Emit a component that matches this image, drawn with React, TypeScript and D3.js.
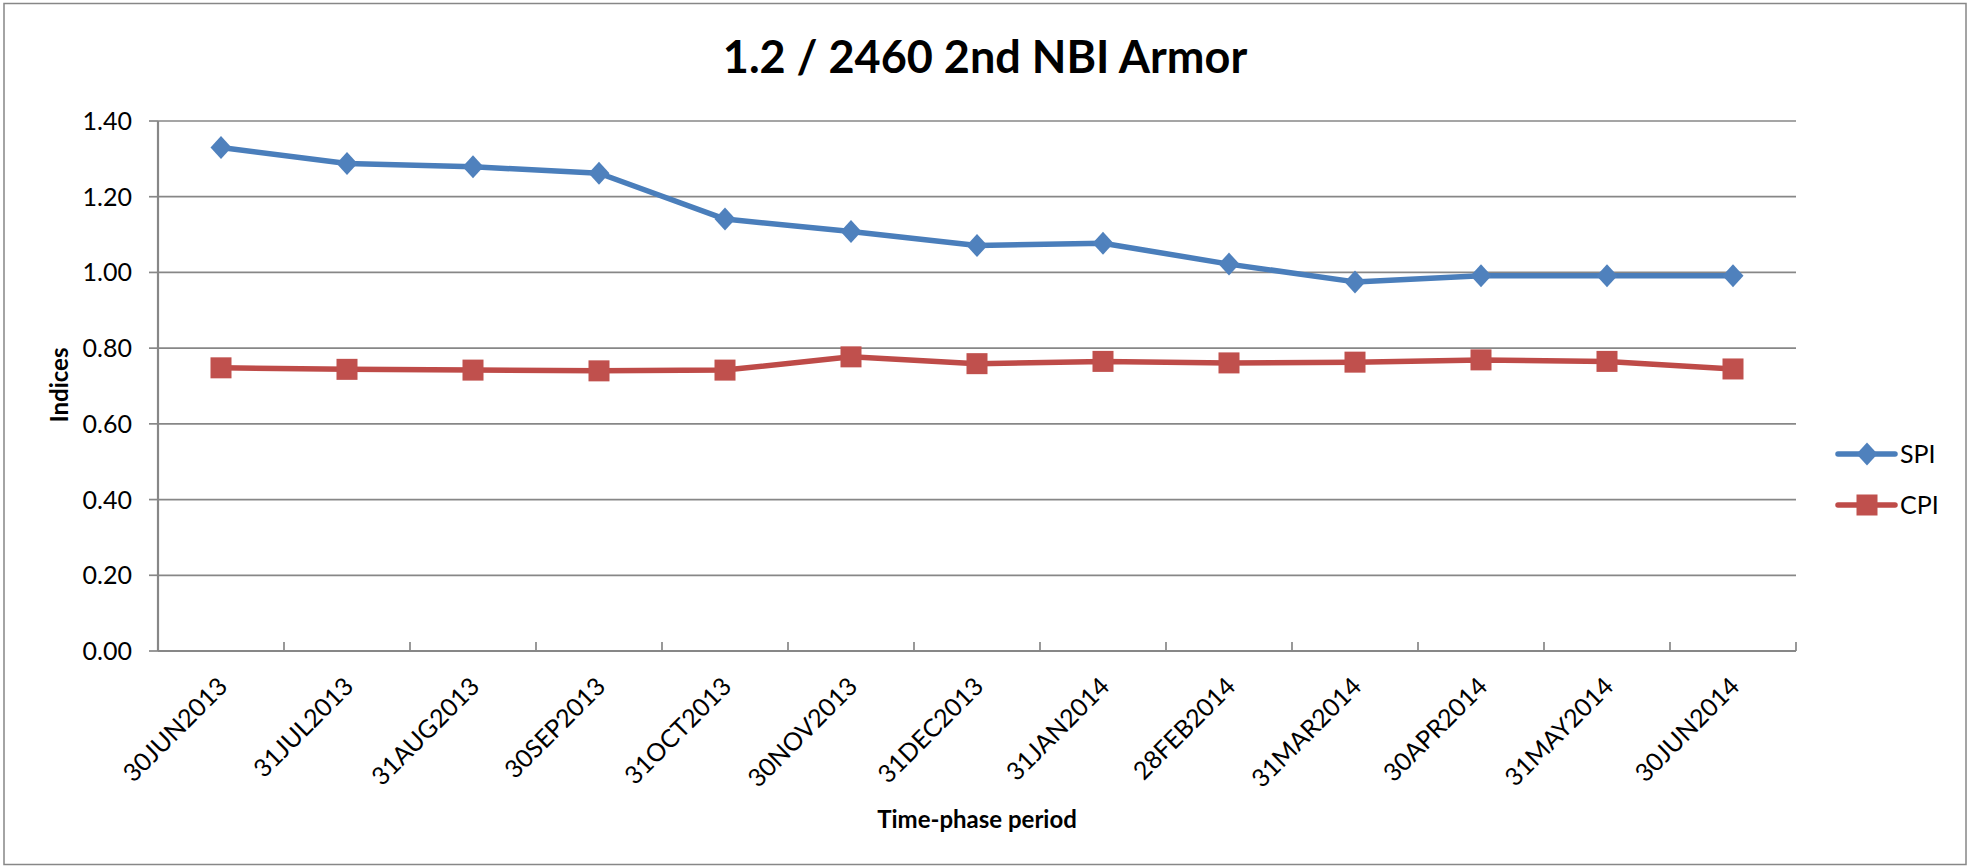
import React from "react";
import * as d3 from "d3";

const categories = [
  "30JUN2013", "31JUL2013", "31AUG2013", "30SEP2013", "31OCT2013", "30NOV2013",
  "31DEC2013", "31JAN2014", "28FEB2014", "31MAR2014", "30APR2014", "31MAY2014", "30JUN2014",
];
const spiValues = [1.33, 1.288, 1.279, 1.262, 1.141, 1.108, 1.071, 1.077, 1.022, 0.975, 0.991, 0.991, 0.991];
const cpiValues = [0.748, 0.744, 0.742, 0.740, 0.742, 0.777, 0.759, 0.765, 0.761, 0.763, 0.769, 0.765, 0.745];
const yTicks = [0, 0.2, 0.4, 0.6, 0.8, 1.0, 1.2, 1.4];

const W = 1973;
const H = 867;
const FONT = "Lato, 'Open Sans', sans-serif";
const GRID = "#878787";

export default function App() {
  const x = d3.scaleBand<string>().domain(categories).range([158, 1796]).padding(0);
  const y = d3.scaleLinear().domain([0, 1.4]).range([651, 121]);
  const cx = (c: string) => (x(c) as number) + x.bandwidth() / 2;

  const line = d3
    .line<number>()
    .x((_, i) => cx(categories[i]))
    .y((v) => y(v));

  const diamond = (px: number, py: number, hw = 10.5, hh = 11.5) =>
    `M${px},${py - hh}L${px + hw},${py}L${px},${py + hh}L${px - hw},${py}Z`;

  const x0 = x.range()[0];
  const x1 = x.range()[1];
  const y0 = y(0);

  return (
    <svg
      width={W}
      height={H}
      style={{ position: "absolute", left: 0, top: 0, display: "block", background: "#fff" }}
      fontFamily={FONT}
    >
      <rect x={4} y={3.5} width={1962} height={861} fill="#fff" stroke={GRID} strokeWidth={1.5} />

      <text x={985} y={73} textAnchor="middle" fontSize={45} fontWeight="bold" fill="#000">
        1.2 / 2460 2nd NBI Armor
      </text>

      {/* gridlines */}
      {yTicks.map((t) => (
        <g key={t}>
          {t > 0 && <line x1={x0} x2={x1} y1={y(t)} y2={y(t)} stroke={GRID} strokeWidth={1.7} />}
          <line x1={149} x2={x0} y1={y(t)} y2={y(t)} stroke={GRID} strokeWidth={1.7} />
          <text x={132} y={y(t) + 9} textAnchor="end" fontSize={25} fill="#000">
            {d3.format(".2f")(t)}
          </text>
        </g>
      ))}

      {/* axes */}
      <line x1={x0} x2={x0} y1={y(1.4)} y2={y0} stroke={GRID} strokeWidth={2.2} />
      <line x1={x0} x2={x1} y1={y0} y2={y0} stroke={GRID} strokeWidth={2.2} />
      {categories.concat(["__end"]).map((c, i) => {
        const tx = i < categories.length ? (x(c) as number) : x1;
        return <line key={"t" + i} x1={tx} x2={tx} y1={y0} y2={y0 - 9} stroke={GRID} strokeWidth={1.7} />;
      })}

      {/* x labels */}
      {categories.map((c) => (
        <text
          key={c}
          transform={`translate(${cx(c) + 8},${y0 + 37}) rotate(-45)`}
          textAnchor="end"
          fontSize={25}
          fill="#000"
        >
          {c}
        </text>
      ))}

      <text
        transform={`translate(68,${385}) rotate(-90)`}
        textAnchor="middle"
        fontSize={24}
        fontWeight="bold"
        fill="#000"
      >
        Indices
      </text>
      <text x={977} y={828} textAnchor="middle" fontSize={24} fontWeight="bold" fill="#000">
        Time-phase period
      </text>

      {/* series */}
      <path d={line(spiValues) || ""} fill="none" stroke="#4A7EBB" strokeWidth={5.5} strokeLinejoin="round" />
      <path d={line(cpiValues) || ""} fill="none" stroke="#BE4B48" strokeWidth={5.5} strokeLinejoin="round" />
      {spiValues.map((v, i) => (
        <path key={"s" + i} d={diamond(cx(categories[i]), y(v))} fill="#4F81BD" />
      ))}
      {cpiValues.map((v, i) => (
        <rect key={"c" + i} x={cx(categories[i]) - 10.5} y={y(v) - 10.5} width={21} height={21} fill="#C0504D" />
      ))}

      {/* legend */}
      <line x1={1838} x2={1895} y1={454} y2={454} stroke="#4A7EBB" strokeWidth={5.5} strokeLinecap="round" />
      <path d={diamond(1867, 454)} fill="#4F81BD" />
      <text x={1900} y={463} fontSize={25} fill="#000">SPI</text>
      <line x1={1838} x2={1895} y1={505} y2={505} stroke="#BE4B48" strokeWidth={5.5} strokeLinecap="round" />
      <rect x={1856.5} y={494.5} width={21} height={21} fill="#C0504D" />
      <text x={1900} y={514} fontSize={25} fill="#000">CPI</text>
    </svg>
  );
}
